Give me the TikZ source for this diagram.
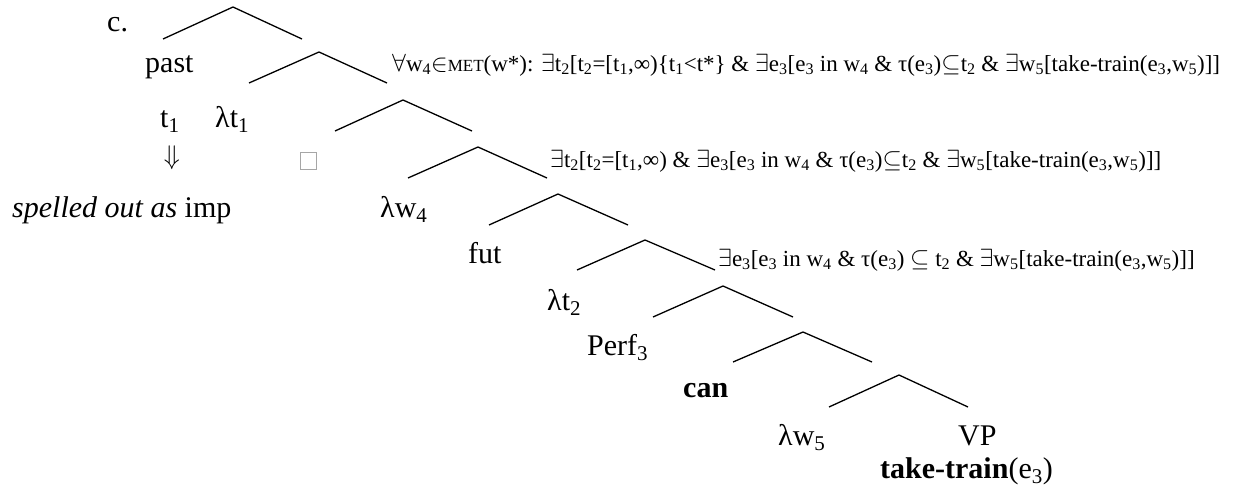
\documentclass[tikz,border=0pt]{standalone}
\usepackage{fontspec}
\usepackage{graphicx}
\setmainfont{Liberation Serif}
\newcommand\mysub[1]{\textsubscript{#1}}
\newcommand\bigf{\fontsize{30}{36}\selectfont}
\newcommand\smallf{\fontsize{23}{27}\selectfont}
\newcommand\scf{\fontsize{17}{20}\selectfont}
\tikzset{
  lbl/.style={inner sep=0pt, anchor=base west, font=\bigf},
  frm/.style={inner sep=0pt, anchor=base west, font=\smallf},
  branch/.style={line width=1.3pt, line join=miter},
}
\begin{document}
\begin{tikzpicture}[x=1pt,y=-1pt]
\useasboundingbox (0,0) rectangle (1243,488);
% branches: left end, apex, right end
\coordinate (l1) at (163,39);  \coordinate (a1) at (233,7);   \coordinate (r1) at (302,39);
\coordinate (l2) at (249,83);  \coordinate (a2) at (319,52);  \coordinate (r2) at (387,83);
\coordinate (l3) at (335,131); \coordinate (a3) at (403,100); \coordinate (r3) at (472,131);
\coordinate (l4) at (408,178); \coordinate (a4) at (478,147); \coordinate (r4) at (547,178);
\coordinate (l5) at (489,225); \coordinate (a5) at (558,194); \coordinate (r5) at (628,225);
\coordinate (l6) at (577,270); \coordinate (a6) at (645,240); \coordinate (r6) at (715,270);
\coordinate (l7) at (653,317); \coordinate (a7) at (723,286); \coordinate (r7) at (793,317);
\coordinate (l8) at (733,362); \coordinate (a8) at (803,332); \coordinate (r8) at (872,362);
\coordinate (l9) at (829,407); \coordinate (a9) at (899,375); \coordinate (r9) at (968,407);
\foreach \i in {1,...,9} { \draw[branch] (l\i) -- (a\i) -- (r\i); }

% labels
\node[lbl] (c) at (107,31) {c.};
\node[lbl] (past) at (145,72) {past};
\node[lbl] (t1) at (160,127) {t\mysub{1}};
\node[lbl] (lt1) at (215,127) {λt\mysub{1}};
\node[inner sep=0pt] (arr) at (172,158) {\resizebox*{16pt}{24pt}{$\Downarrow$}};
\node[draw=gray!70, line width=0.6pt, minimum width=16pt, minimum height=17pt, inner sep=0pt] (box) at (308.5,161) {};
\node[lbl] (spell) at (12,217) {\textit{spelled out as} imp};
\node[lbl] (lw4) at (380,217) {λw\mysub{4}};
\node[lbl] (fut) at (468,263) {fut};
\node[lbl] (lt2) at (547,310) {λt\mysub{2}};
\node[lbl] (perf) at (587,355) {Perf\mysub{3}};
\node[lbl] (can) at (683,397) {\textbf{can}};
\node[lbl] (lw5) at (778,445) {λw\mysub{5}};
\node[lbl] (vp) at (958,445) {VP};
\node[lbl] (tt) at (880,478) {\textbf{take-train}(e\mysub{3})};

\node[frm] (f1) at (392,71) {$\forall$w\mysub{4}$\in${\scf MET}(w*): $\exists$t\mysub{2}[t\mysub{2}=[t\mysub{1},∞)\{t\mysub{1}<t*\} \& $\exists$e\mysub{3}[e\mysub{3} in w\mysub{4} \& τ(e\mysub{3})$\subseteq$t\mysub{2} \& $\exists$w\mysub{5}[take-train(e\mysub{3},w\mysub{5})]]};
\node[frm] (f2) at (550,167) {$\exists$t\mysub{2}[t\mysub{2}=[t\mysub{1},∞) \& $\exists$e\mysub{3}[e\mysub{3} in w\mysub{4} \& τ(e\mysub{3})$\subseteq$t\mysub{2} \& $\exists$w\mysub{5}[take-train(e\mysub{3},w\mysub{5})]]};
\node[frm] (f3) at (718,266) {$\exists$e\mysub{3}[e\mysub{3} in w\mysub{4} \& τ(e\mysub{3}) $\subseteq$ t\mysub{2} \& $\exists$w\mysub{5}[take-train(e\mysub{3},w\mysub{5})]]};
\end{tikzpicture}
\end{document}
